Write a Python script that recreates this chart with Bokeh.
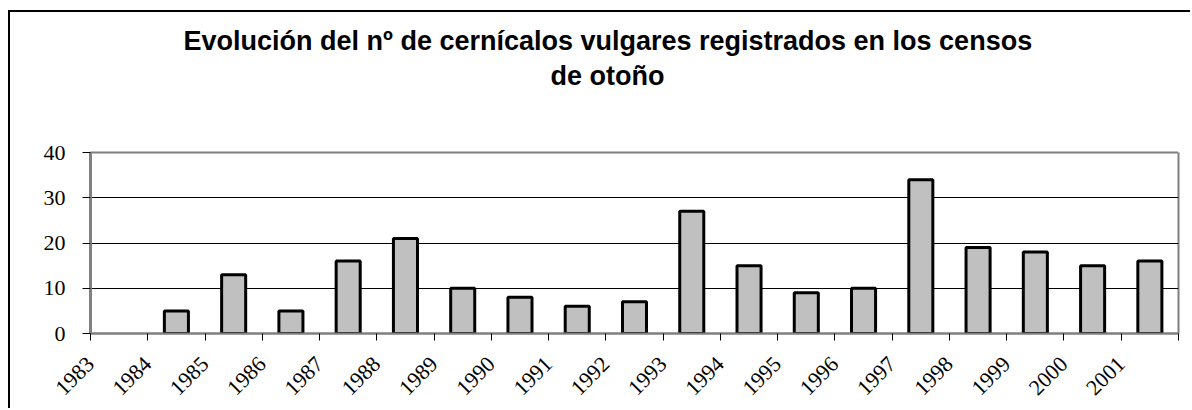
import math
from bokeh.plotting import figure
from bokeh.models import FixedTicker, Range1d, Title, LinearAxis
from bokeh.embed import file_html
from bokeh.resources import INLINE

years = ["1983", "1984", "1985", "1986", "1987", "1988", "1989", "1990", "1991", "1992",
         "1993", "1994", "1995", "1996", "1997", "1998", "1999", "2000", "2001"]
counts = [0, 5, 13, 5, 16, 21, 10, 8, 6, 7, 27, 15, 9, 10, 34, 19, 18, 15, 16]
y_ticks = [0, 10, 20, 30, 40]
title_line1 = "Evolución del nº de cernícalos vulgares registrados en los censos"
title_line2 = "de otoño"

n = len(years)
bar_x = [i + 0.5 for i in range(n) if counts[i] > 0]
bar_top = [c for c in counts if c > 0]

p = figure(width=1182, height=398, output_backend="svg", toolbar_location=None,
           x_range=Range1d(0, n), y_range=Range1d(0, 40),
           min_border_left=80, min_border_right=14, min_border_top=140, min_border_bottom=77)
p.styles = {"margin-left": "8px", "margin-top": "10px",
            "border-top": "2px solid black", "border-left": "2px solid black"}
p.title = None

# blank spacer between the plot frame and the two title lines
spacer = LinearAxis(ticker=FixedTicker(ticks=[n]), axis_line_color=None,
                    major_tick_out=60, major_tick_in=0, minor_tick_out=0, minor_tick_in=0,
                    major_tick_line_color="white", minor_tick_line_color=None,
                    major_label_standoff=0, major_label_text_color=None)
p.add_layout(spacer, "above")

def make_title(text, standoff, offset):
    return Title(text=text, align="left", offset=offset, standoff=standoff,
                 text_font="Liberation Sans", text_font_style="bold",
                 text_font_size="27px", text_color="black")

p.add_layout(make_title(title_line2, 4, 460), "above")
p.add_layout(make_title(title_line1, 1, 93), "above")

p.background_fill_color = "white"
p.border_fill_color = "white"
p.outline_line_color = "#808080"
p.outline_line_width = 2

p.vbar(x=bar_x, top=bar_top, bottom=0, width=0.42, fill_color="#c0c0c0",
       line_color="black", line_width=3)

p.xgrid.grid_line_color = None
p.ygrid.grid_line_color = "black"
p.ygrid.grid_line_width = 1

xax = p.below[0]
xax.ticker = FixedTicker(ticks=list(range(n + 1)))
overrides = {i: years[i] for i in range(n)}
overrides[n] = ""
xax.major_label_overrides = overrides
xax.major_label_orientation = math.pi / 4
xax.minor_tick_line_color = None
xax.axis_line_color = "#808080"
xax.axis_line_width = 2
xax.major_tick_line_color = "black"
xax.major_tick_out = 7
xax.major_tick_in = 0
xax.major_label_standoff = 20
xax.major_label_text_font = "Liberation Serif"
xax.major_label_text_font_size = "22px"
xax.major_label_text_color = "black"

p.yaxis.ticker = FixedTicker(ticks=y_ticks)
p.yaxis.minor_tick_line_color = None
p.yaxis.axis_line_color = "#808080"
p.yaxis.axis_line_width = 3
p.yaxis.major_tick_line_color = "black"
p.yaxis.major_tick_out = 8
p.yaxis.major_tick_in = 0
p.yaxis.major_label_standoff = 17
p.yaxis.major_label_text_font = "Liberation Serif"
p.yaxis.major_label_text_font_size = "22px"
p.yaxis.major_label_text_color = "black"

open("out.html", "w").write(file_html(p, INLINE))
